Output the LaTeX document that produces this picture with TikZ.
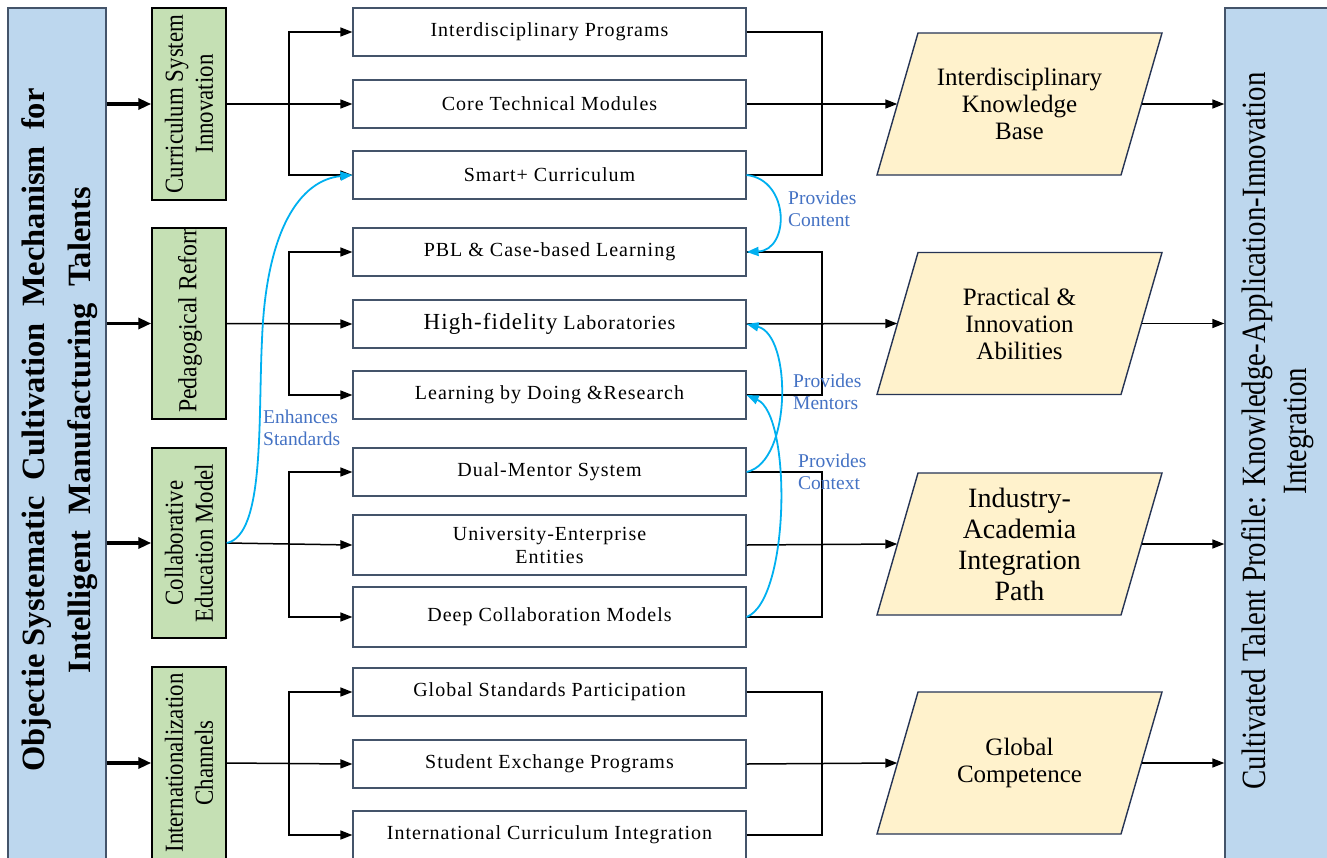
\documentclass[tikz,border=0pt]{standalone}
\usepackage{fontspec}
\setmainfont{Liberation Serif}
\newfontfamily\spacedserif[LetterSpace=5]{Liberation Serif}
\usetikzlibrary{arrows.meta,calc}

\definecolor{barblue}{RGB}{189,215,238}
\definecolor{barline}{RGB}{68,84,106}
\definecolor{leafgreen}{RGB}{197,224,180}
\definecolor{sandfill}{RGB}{255,242,204}
\definecolor{paraline}{RGB}{38,52,84}
\definecolor{linkblue}{RGB}{0,176,240}
\definecolor{notetext}{RGB}{68,114,196}
\definecolor{boxline}{RGB}{68,84,106}

\tikzset{
  sidebar/.style={draw=barline, fill=barblue, line width=1.3pt, minimum width=98, minimum height=862, inner sep=0},
  titletext/.style={rotate=90, align=center, inner sep=0, font=\bfseries\fontsize{32.5}{46}\selectfont},
  profiletext/.style={rotate=90, xscale=0.85, align=center, inner sep=0, font=\fontsize{34}{41}\selectfont},
  greenbox/.style={draw=black, fill=leafgreen, line width=1.5pt, minimum width=74, inner sep=0},
  greentext/.style={rotate=90, xscale=0.88, align=center, inner sep=0, font=\fontsize{26}{30}\selectfont},
  midbox/.style={draw=boxline, fill=white, line width=1.2pt, minimum width=393, minimum height=48, inner sep=0, align=center, font=\spacedserif\fontsize{20}{23}\selectfont},
  outshape/.style={draw=paraline, fill=sandfill, line width=1.4pt},
  outtext/.style={minimum width=244, minimum height=142, inner sep=0, align=center, font=\fontsize{25}{27}\selectfont},
  feed/.style={line width=1.5pt, -{Triangle[length=12pt,width=9pt]}},
  plain/.style={line width=1.5pt},
  thickfeed/.style={line width=3.2pt, -{Triangle[length=13pt,width=11pt]}},
  link/.style={draw=linkblue, line width=1.8pt, -{Triangle[length=12pt,width=9pt]}, fill=none},
  note/.style={text=notetext, anchor=north west, align=left, inner sep=0, font=\fontsize{19.5}{21.5}\selectfont},
}

\begin{document}
\begin{tikzpicture}[x=1pt,y=-1pt]
\fill[white] (0,0) rectangle (1327,857);
\clip (0,0) rectangle (1327,857);

% side bars
\node[sidebar] (lbar) at (57,439) {};
\node[sidebar, minimum width=120] (rbar) at (1285,439) {};
\node[titletext] (ltitle) at (60,430) {Objectie Systematic\ \ Cultivation\ \ Mechanism\ \ for\\Intelligent\ \ Manufacturing\ \ Talents};
\node[profiletext] (rtitle) at (1278,431) {Cultivated Talent Profile: Knowledge-Application-Innovation\\Integration};

% strategy boxes
\node[greenbox, minimum height=192] (g1) at (189,104) {};
\node[greenbox, minimum height=191] (g2) at (189,323.5) {};
\node[greenbox, minimum height=190] (g3) at (189,543) {};
\node[greenbox, minimum height=192] (g4) at (189,763) {};
\node[greentext] (g1t) at (g1) {Curriculum System\\Innovation};
\begin{scope}
  \clip (152.8,228.8) rectangle (225.2,418.2);
  \node[greentext, xscale=1.04, anchor=west] (g2t) at (190,413) {Pedagogical Reform};
\end{scope}
\node[greentext] (g3t) at (g3) {Collaborative\\Education Model};
\node[greentext] (g4t) at (g4) {Internationalization\\Channels};

\draw[thickfeed] (lbar.east |- g1.west) -- (g1.west);
\draw[thickfeed] (lbar.east |- g2.west) -- (g2.west);
\draw[thickfeed] (lbar.east |- g3.west) -- (g3.west);
\draw[thickfeed] (lbar.east |- g4.west) -- (g4.west);

% measures
\node[midbox] (m1) at (549.5,32) {Interdisciplinary Programs};
\node[midbox] (m2) at (549.5,104) {Core Technical Modules};
\node[midbox] (m3) at (549.5,175) {Smart+ Curriculum};
\node[midbox] (m4) at (549.5,252) {PBL \& Case-based Learning};
\node[midbox] (m5) at (549.5,324) {{\fontsize{23}{23}\selectfont High-fidelity} Laboratories};
\node[midbox] (m6) at (549.5,395) {Learning by Doing \&Research};
\node[midbox] (m7) at (549.5,472) {Dual-Mentor System};
\node[midbox, minimum height=60] (m8) at (549.5,545) {University-Enterprise\\Entities};
\node[midbox, minimum height=60] (m9) at (549.5,617) {Deep Collaboration Models};
\node[midbox] (m10) at (549.5,692) {Global Standards Participation};
\node[midbox] (m11) at (549.5,764) {Student Exchange Programs};
\node[midbox] (m12) at (549.5,835) {International Curriculum Integration};

% fan-out from strategies
\coordinate (s1) at (289,104);
\coordinate (s2) at (289,324);
\coordinate (s3) at (289,545);
\coordinate (s4) at (289,764);
\draw[feed] (g1.east) -- (m2.west);
\draw[feed] (s1) |- (m1.west);
\draw[feed] (s1) |- (m3.west);
\draw[feed] (g2.east) -- (m5.west);
\draw[feed] (s2) |- (m4.west);
\draw[feed] (s2) |- (m6.west);
\draw[feed] (g3.east) -- (m8.west);
\draw[feed] (s3) |- (m7.west);
\draw[feed] (s3) |- (m9.west);
\draw[feed] (g4.east) -- (m11.west);
\draw[feed] (s4) |- (m10.west);
\draw[feed] (s4) |- (m12.west);

% outcomes
\draw[outshape] (1019.5,104) ++(-101.5,-71) -- ++(244,0) -- ++(-41,142) -- ++(-244,0) -- cycle;
\draw[outshape] (1019.5,323.5) ++(-101.5,-71) -- ++(244,0) -- ++(-41,142) -- ++(-244,0) -- cycle;
\draw[outshape] (1019.5,544) ++(-101.5,-71) -- ++(244,0) -- ++(-41,142) -- ++(-244,0) -- cycle;
\draw[outshape] (1019.5,763) ++(-101.5,-71) -- ++(244,0) -- ++(-41,142) -- ++(-244,0) -- cycle;
\node[outtext] (p1) at (1019.5,104) {Interdisciplinary\\Knowledge\\Base};
\node[outtext] (p2) at (1019.5,323.5) {Practical \&\\Innovation\\Abilities};
\node[outtext, font=\fontsize{28}{31}\selectfont] (p3) at (1019.5,544) {Industry-\\Academia\\Integration\\Path};
\node[outtext] (p4) at (1019.5,763) {Global\\Competence};

% fan-in to outcomes
\coordinate (j1) at (822,104);
\coordinate (j2) at (822,324);
\coordinate (j3) at (822,545);
\coordinate (j4) at (822,764);
\draw[plain] (m1.east) -| (j1);
\draw[plain] (m3.east) -| (j1);
\draw[feed] (m2.east) -- (p1.west);
\draw[plain] (m4.east) -| (j2);
\draw[plain] (m6.east) -| (j2);
\draw[feed] (m5.east) -- (p2.west);
\draw[plain] (m7.east) -| (j3);
\draw[plain] (m9.east) -| (j3);
\draw[feed] (m8.east) -- (p3.west);
\draw[plain] (m10.east) -| (j4);
\draw[plain] (m12.east) -| (j4);
\draw[feed] (m11.east) -- (p4.west);

% outcomes into the profile
\draw[feed] (p1.east) -- (rbar.west |- p1.east);
\draw[feed] (p2.east) -- (rbar.west |- p2.east);
\draw[feed] (p3.east) -- (rbar.west |- p3.east);
\draw[feed] (p4.east) -- (rbar.west |- p4.east);

% cross links
\draw[link] (g3.east) .. controls (265,535) and (258,420) .. (262,340) .. controls (266,230) and (300,180) .. (m3.west);
\draw[link] (m3.east) .. controls (790,180) and (790,250) .. (m4.east);
\draw[link] (m7.east) .. controls (792,462) and (792,335) .. (m5.east);
\draw[link] (m9.east) .. controls (790,600) and (792,415) .. (m6.east);

\node[note] (n1) at (263,410) {Enhances\\Standards};
\node[note] (n2) at (788,191) {Provides\\Content};
\node[note] (n3) at (793,374) {Provides\\Mentors};
\node[note] (n4) at (798,454) {Provides\\Context};
\end{tikzpicture}
\end{document}
